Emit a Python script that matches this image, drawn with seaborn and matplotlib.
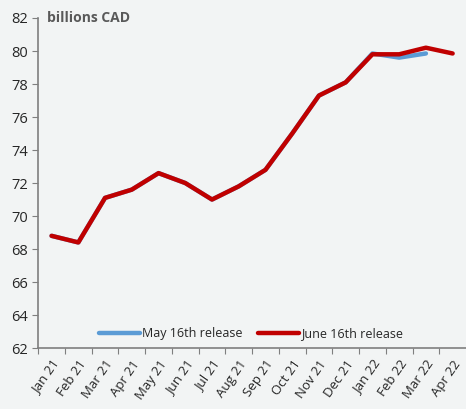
import matplotlib.pyplot as plt
import pandas as pd
import seaborn as sns

months = ["Jan 21", "Feb 21", "Mar 21", "Apr 21", "May 21", "Jun 21", "Jul 21", "Aug 21",
          "Sep 21", "Oct 21", "Nov 21", "Dec 21", "Jan 22", "Feb 22", "Mar 22", "Apr 22"]
may_release = [68.8, 68.4, 71.1, 71.6, 72.6, 72.0, 71.0, 71.8,
               72.8, 75.0, 77.3, 78.1, 79.85, 79.6, 79.85]
june_release = [68.8, 68.4, 71.1, 71.6, 72.6, 72.0, 71.0, 71.8,
                72.8, 75.0, 77.3, 78.1, 79.8, 79.8, 80.2, 79.85]

df = pd.concat([
    pd.DataFrame({"pos": range(len(may_release)), "value": may_release, "series": "May 16th release"}),
    pd.DataFrame({"pos": range(len(june_release)), "value": june_release, "series": "June 16th release"}),
])

bg = "#f2f4f4"
grey = "#7f7f7f"
sns.set_style("ticks")
plt.rcParams["font.family"] = ["Open Sans", "DejaVu Sans"]

fig = plt.figure(figsize=(4.66, 4.09), dpi=100, facecolor=bg)
ax = fig.add_axes([0.082, 0.149, 0.918, 0.807], facecolor=bg)

sns.lineplot(data=df, x="pos", y="value", hue="series",
             palette={"May 16th release": "#5b9bd5", "June 16th release": "#c00000"},
             linewidth=3.2, ax=ax)

ax.set_xlim(-0.5, len(months) - 0.5)
ax.set_ylim(62, 82)
ax.set_yticks(range(62, 83, 2))
ax.set_xticks([i - 0.5 for i in range(len(months))])
ax.set_xticklabels([])
ax.set_xticks(range(len(months)), minor=True)
ax.set_xticklabels(months, minor=True, rotation=55, ha="right", rotation_mode="anchor")
ax.tick_params(axis="x", which="minor", length=0, pad=7, labelsize=9.5, colors="#262626")
ax.tick_params(axis="x", which="major", length=4, color=grey, direction="out")
ax.tick_params(axis="y", length=4, color=grey, labelsize=10.5, labelcolor="#262626")
ax.set_xlabel("")
ax.set_ylabel("")

for side in ["top", "right"]:
    ax.spines[side].set_visible(False)
for side in ["left", "bottom"]:
    ax.spines[side].set_color(grey)
    ax.spines[side].set_linewidth(1.2)

ax.text(0.02, 1.0, "billions CAD", transform=ax.transAxes, fontsize=10,
        fontweight="bold", color="#595959", va="center", ha="left")

ax.legend(loc="lower center", bbox_to_anchor=(0.497, -0.01), ncol=2, frameon=False,
          fontsize=9, handlelength=3.3, handletextpad=0.15, columnspacing=1.2)

fig.savefig("out.png", dpi=100, facecolor=bg)
